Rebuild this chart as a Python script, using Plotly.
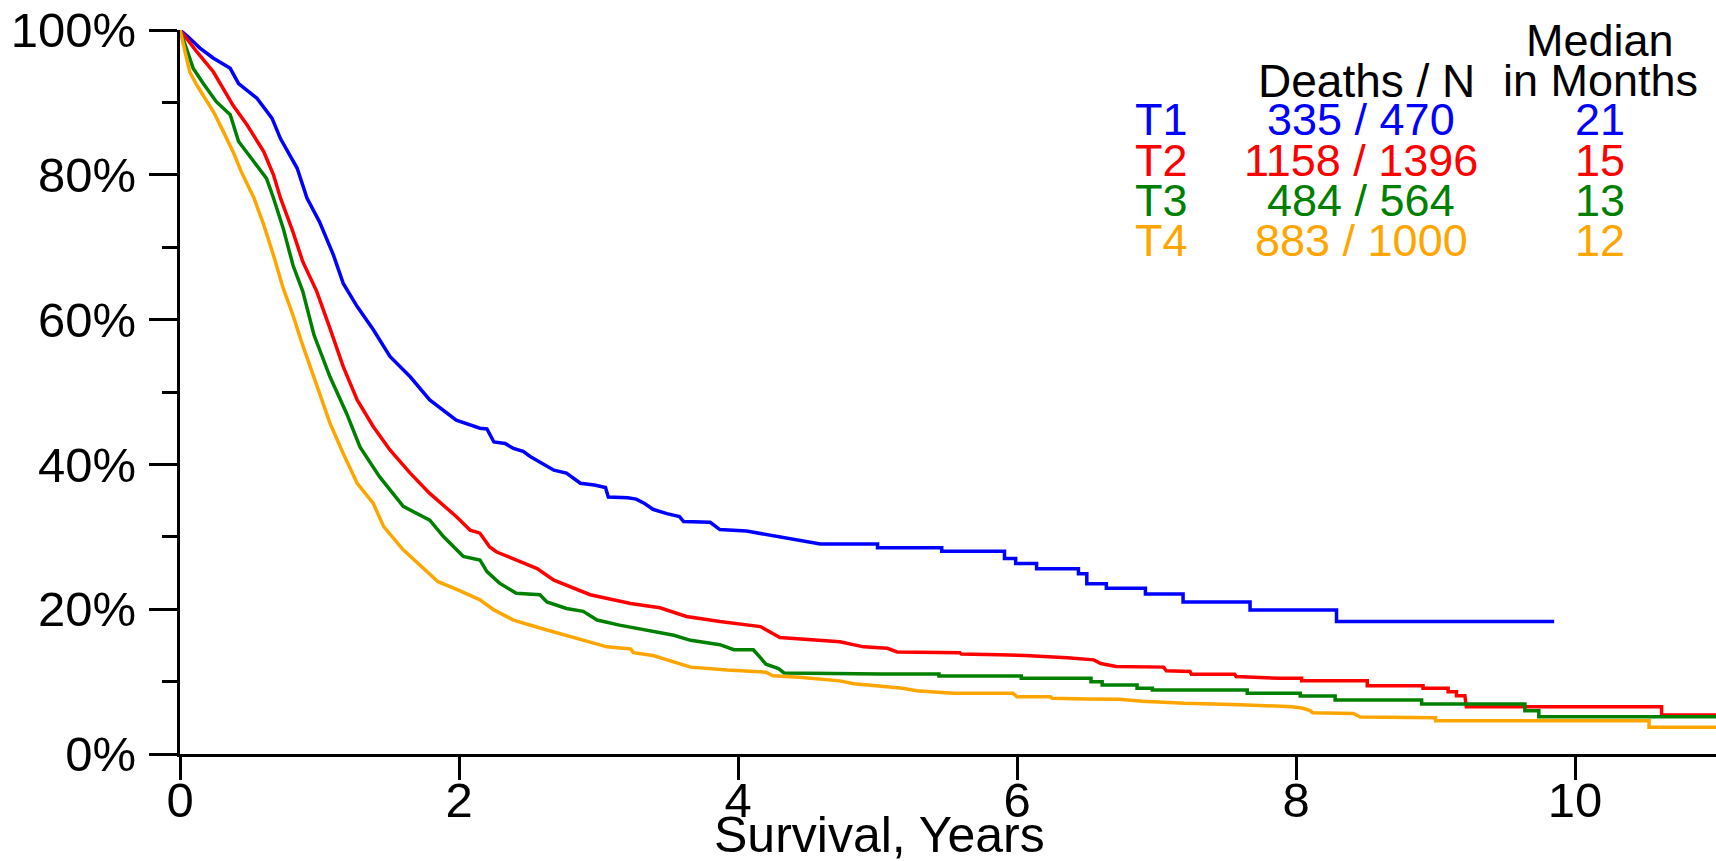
import plotly.graph_objects as go

# ---------------- data ----------------
groups = ["T1", "T2", "T3", "T4"]
deaths = [335, 1158, 484, 883]
n_patients = [470, 1396, 564, 1000]
median_months = [21, 15, 13, 12]
colors = ["#0000FF", "#FF0000", "#008000", "#FFA500"]

t1_time = [0, 0.05, 0.143, 0.24, 0.36, 0.42, 0.55, 0.66, 0.72, 0.84, 0.91, 1.00, 1.10, 1.17,
           1.27, 1.386, 1.505, 1.65, 1.79, 1.98, 2.15, 2.20, 2.25, 2.33, 2.39, 2.46, 2.51, 2.60,
           2.68, 2.77, 2.82, 2.87, 2.97, 3.05, 3.07, 3.21, 3.27, 3.33, 3.39, 3.49, 3.58, 3.61,
           3.80, 3.87, 4.06, 4.20, 4.30, 4.43, 4.59, 5.00, 5.00, 5.46, 5.46, 5.91, 5.91, 5.99,
           5.99, 6.14, 6.14, 6.44, 6.44, 6.50, 6.50, 6.64, 6.64, 6.92, 6.92, 7.19, 7.19, 7.67,
           7.67, 8.29, 8.29, 9.85]
t1_surv = [100, 99.2, 97.5, 96.1, 94.7, 92.6, 90.6, 87.8, 85.0, 80.9, 76.8, 73.5, 68.9, 65.0,
           61.8, 58.6, 54.9, 52.1, 48.9, 46.1, 45.0, 44.9, 43.1, 42.9, 42.2, 41.8, 41.1, 40.1,
           39.2, 38.8, 38.1, 37.4, 37.15, 36.8, 35.5, 35.4, 35.2, 34.6, 33.8, 33.2, 32.8, 32.1,
           32.0, 31.0, 30.8, 30.3, 30.0, 29.6, 29.0, 29.0, 28.5, 28.5, 28.0, 28.0, 27.0, 27.0,
           26.3, 26.3, 25.6, 25.6, 24.9, 24.9, 23.5, 23.5, 22.9, 22.9, 22.1, 22.1, 21.0, 21.0,
           19.9, 19.9, 18.3, 18.3]

t2_time = [0, 0.12, 0.24, 0.38, 0.48, 0.60, 0.67, 0.72, 0.81, 0.88, 0.98, 1.05, 1.075, 1.17,
           1.27, 1.386, 1.505, 1.65, 1.79, 1.98, 2.08, 2.15, 2.22, 2.27, 2.41, 2.46, 2.56, 2.68,
           2.94, 3.23, 3.44, 3.63, 3.87, 4.16, 4.30, 4.73, 4.90, 5.07, 5.14, 5.59, 5.60, 5.87,
           6.06, 6.36, 6.55, 6.60, 6.71, 7.05, 7.07, 7.24, 7.25, 7.56, 7.57, 7.89, 8.04, 8.04,
           8.51, 8.51, 8.91, 8.91, 9.09, 9.09, 9.15, 9.15, 9.21, 9.22, 10.62, 10.62, 11.01]
t2_surv = [100, 97.0, 94.2, 89.6, 86.9, 83.2, 80.0, 76.8, 72.1, 68.0, 63.9, 60.2, 58.8, 53.5,
           48.9, 45.2, 42.0, 38.8, 36.0, 32.8, 30.9, 30.5, 28.6, 27.9, 26.8, 26.3, 25.6, 24.0,
           22.0, 20.8, 20.2, 19.0, 18.3, 17.6, 16.1, 15.5, 14.8, 14.6, 14.1, 14.0, 13.8, 13.7,
           13.6, 13.3, 13.0, 12.5, 12.1, 12.0, 11.5, 11.4, 11.0, 11.0, 10.7, 10.45, 10.45, 10.13,
           10.13, 9.44, 9.44, 9.07, 9.07, 8.61, 8.61, 8.06, 8.06, 6.54, 6.54, 5.39, 5.39]

t3_time = [0, 0.07, 0.095, 0.167, 0.26, 0.36, 0.42, 0.53, 0.62, 0.67, 0.74, 0.81, 0.88, 0.96,
           1.075, 1.195, 1.29, 1.43, 1.60, 1.79, 1.89, 2.03, 2.15, 2.20, 2.29, 2.41, 2.58, 2.63,
           2.77, 2.89, 2.99, 3.15, 3.35, 3.54, 3.66, 3.87, 3.97, 4.11, 4.16, 4.20, 4.29, 4.33,
           5.02, 5.44, 5.44, 6.03, 6.03, 6.53, 6.53, 6.61, 6.61, 6.86, 6.86, 6.97, 6.97, 7.65,
           7.65, 8.03, 8.03, 8.28, 8.28, 8.90, 8.90, 9.64, 9.64, 9.74, 9.74, 11.01]
t3_surv = [100, 96.1, 94.7, 92.6, 90.1, 88.3, 84.6, 81.8, 79.5, 76.8, 72.6, 67.5, 63.9, 57.9,
           52.1, 47.0, 42.4, 38.3, 34.2, 32.3, 30.0, 27.3, 26.8, 25.2, 23.6, 22.2, 22.0, 21.0,
           20.1, 19.7, 18.5, 17.8, 17.1, 16.4, 15.7, 15.1, 14.4, 14.4, 13.3, 12.4, 11.8, 11.2,
           11.05, 11.05, 10.77, 10.77, 10.45, 10.45, 9.99, 9.99, 9.53, 9.53, 9.07, 9.07, 8.84, 8.84,
           8.38, 8.38, 8.0, 8.0, 7.46, 7.46, 6.91, 6.91, 5.99, 5.99, 5.16, 5.16]

t4_time = [0, 0.036, 0.07, 0.12, 0.167, 0.24, 0.31, 0.38, 0.44, 0.53, 0.60, 0.67, 0.74, 0.81,
           0.87, 1.075, 1.17, 1.27, 1.386, 1.46, 1.60, 1.77, 1.85, 2.00, 2.15, 2.25, 2.39, 2.58,
           2.77, 2.96, 3.06, 3.23, 3.25, 3.39, 3.49, 3.58, 3.66, 3.92, 4.20, 4.25, 4.44, 4.73,
           4.83, 4.95, 5.09, 5.18, 5.28, 5.44, 5.54, 5.97, 6.00, 6.24, 6.25, 6.50, 6.73, 6.90,
           7.20, 7.60, 7.97, 8.05, 8.10, 8.12, 8.41, 8.46, 9.00, 9.00, 10.53, 10.53, 11.01]
t4_surv = [100, 97.0, 94.2, 92.4, 91.0, 88.7, 86.0, 83.2, 80.4, 76.8, 73.1, 68.9, 64.3, 60.6,
           57.0, 45.7, 41.5, 37.4, 34.6, 31.4, 28.2, 25.3, 23.8, 22.6, 21.3, 19.9, 18.5, 17.4,
           16.4, 15.3, 14.8, 14.5, 14.0, 13.6, 13.0, 12.4, 12.0, 11.6, 11.3, 10.8, 10.6, 10.1,
           9.7, 9.5, 9.3, 9.07, 8.75, 8.47, 8.38, 8.38, 7.92, 7.92, 7.69, 7.6, 7.55, 7.3,
           7.0, 6.8, 6.54, 6.31, 5.99, 5.7, 5.6, 5.1, 5.0, 4.6, 4.6, 3.7, 3.7]

times = [t1_time, t2_time, t3_time, t4_time]
survs = [t1_surv, t2_surv, t3_surv, t4_surv]

x_ticks = [0, 2, 4, 6, 8, 10]
y_ticks = [0, 20, 40, 60, 80, 100]
x_title = "Survival, Years"

FONT = "Liberation Sans, Arial, Helvetica, sans-serif"

fig = go.Figure()
for g, tt, ss, c in zip(groups, times, survs, colors):
    fig.add_trace(go.Scatter(x=tt, y=ss, mode="lines", name=g,
                             line=dict(color=c, width=3.5, shape="linear"),
                             showlegend=False, hoverinfo="skip"))

W, H = 1716, 861
L, R, T, B = 180, 0, 30, 107
pw, ph = W - L - R, H - T - B


def px(xp):
    return (xp - L) / pw


def py(yp):
    return (H - B - yp) / ph


annotations = []
# legend table headers
hdr_font = dict(family=FONT, size=45, color="black")
annotations.append(dict(text="Median", x=px(1600), y=py(41), xref="paper", yref="paper",
                        xanchor="center", yanchor="middle", showarrow=False, font=hdr_font))
annotations.append(dict(text="in Months", x=px(1600), y=py(81), xref="paper", yref="paper",
                        xanchor="center", yanchor="middle", showarrow=False, font=hdr_font))
annotations.append(dict(text="Deaths / N", x=px(1366), y=py(81), xref="paper", yref="paper",
                        xanchor="center", yanchor="middle", showarrow=False,
                        font=dict(family=FONT, size=46, color="black")))
row_y = [119, 160, 200, 241]
for g, d, n, m, c, ry in zip(groups, deaths, n_patients, median_months, colors, row_y):
    f = dict(family=FONT, size=45, color=c)
    annotations.append(dict(text=g, x=px(1133), y=py(ry), xref="paper", yref="paper",
                            xanchor="left", yanchor="middle", showarrow=False, font=f))
    annotations.append(dict(text=f"{d} / {n}", x=px(1361), y=py(ry), xref="paper", yref="paper",
                            xanchor="center", yanchor="middle", showarrow=False, font=f))
    annotations.append(dict(text=str(m), x=px(1600), y=py(ry), xref="paper", yref="paper",
                            xanchor="center", yanchor="middle", showarrow=False, font=f))
# x axis title
annotations.append(dict(text=x_title, x=px(879), y=py(835), xref="paper", yref="paper",
                        xanchor="center", yanchor="middle", showarrow=False,
                        font=dict(family=FONT, size=50, color="black")))

fig.update_layout(
    width=W, height=H,
    margin=dict(l=L, r=R, t=T, b=B, pad=0),
    paper_bgcolor="white", plot_bgcolor="white",
    font=dict(family=FONT, size=49, color="black"),
    annotations=annotations,
    xaxis=dict(range=[0, 11.01], tickvals=x_ticks, ticktext=[str(v) for v in x_ticks],
               showline=True, linecolor="black", linewidth=3,
               ticks="outside", ticklen=23, tickwidth=3, tickcolor="black",
               showgrid=False, zeroline=False, tickfont=dict(family=FONT, size=49),
               ticklabelstandoff=-22),
    yaxis=dict(range=[0, 100], tickvals=y_ticks, ticktext=[f"{v}%" for v in y_ticks],
               showline=True, linecolor="black", linewidth=3,
               ticks="outside", ticklen=28, tickwidth=3, tickcolor="black",
               minor=dict(dtick=10, ticks="outside", ticklen=15, tickwidth=3, tickcolor="black"),
               showgrid=False, zeroline=False, tickfont=dict(family=FONT, size=49),
               ticklabelstandoff=3),
)

fig.write_html("out.html")
